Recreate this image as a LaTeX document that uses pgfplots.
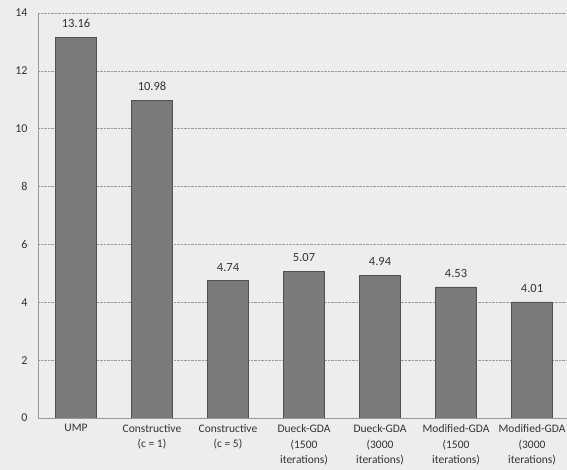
\documentclass[border=0pt]{standalone}
\usepackage{pgfplots}
\pgfplotsset{compat=1.18}
\usepackage{fontspec}
\setmainfont{Carlito}
\definecolor{bg}{HTML}{EDEDED}
\definecolor{barfill}{HTML}{7A7A7A}
\definecolor{baredge}{HTML}{505050}
\begin{document}
\begin{tikzpicture}
\path[use as bounding box] (0pt,0pt) rectangle (567pt,470pt);
\fill[bg] (0pt,0pt) rectangle (567pt,470pt);
\begin{axis}[
  at={(38pt,52pt)}, anchor=south west,
  scale only axis, width=529pt, height=405pt,
  xmin=-0.5, xmax=6.46, ymin=0, ymax=14,
  ytick={0,2,...,14},
  xtick={0,...,6},
  xticklabels={UMP, Constructive\\(c = 1), Constructive\\(c = 5), Dueck-GDA\\(1500\\iterations), Dueck-GDA\\(3000\\iterations), Modified-GDA\\(1500\\iterations), Modified-GDA\\(3000\\iterations)},
  xticklabel style={align=center, font=\fontsize{11.5}{15.5}\selectfont, text=black!80},
  yticklabel style={font=\fontsize{12}{14}\selectfont, text=black!80},
  /pgf/number format/assume math mode=true,
  axis x line*=bottom, axis y line*=left,
  axis line style={black!40, line width=0.6pt},
  x axis line style={-}, y axis line style={-},
  major tick length=0pt,
  ymajorgrids, grid style={black!40, densely dotted, line width=0.5pt},
  xticklabel shift=3pt, yticklabel shift=7pt,
  ybar, bar width=41pt,
  nodes near coords,
  nodes near coords style={font=\fontsize{12.5}{14}\selectfont, text=black!80, yshift=6pt, /pgf/number format/fixed, /pgf/number format/precision=2, /pgf/number format/fixed zerofill},
]
\addplot[fill=barfill, draw=baredge, line width=0.8pt] coordinates {
(0,13.16) (1,10.98) (2,4.74) (3,5.07) (4,4.94) (5,4.53) (6,4.01)};
\end{axis}
\end{tikzpicture}
\end{document}
